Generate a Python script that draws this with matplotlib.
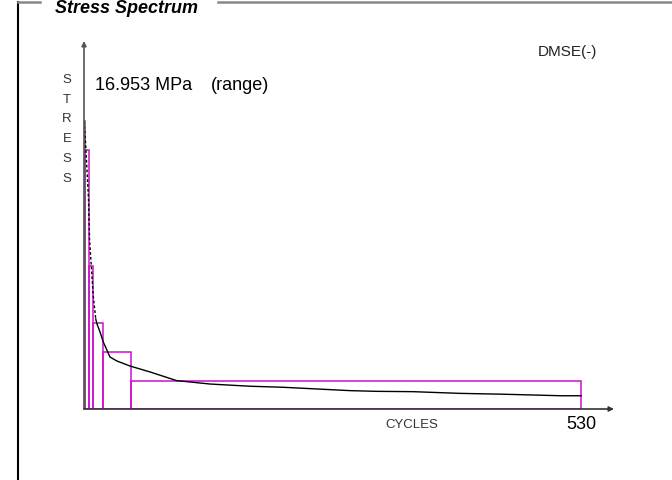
import matplotlib.pyplot as plt
from matplotlib.patches import Rectangle
from matplotlib.lines import Line2D

plt.rcParams['font.family'] = ['Liberation Sans', 'DejaVu Sans']

# rainflow spectrum: cumulative cycles vs stress range (MPa)
curve_cycles = [0, 1.1, 2.1, 4.8, 5.9, 7.5, 9.9, 12.5, 13.9, 17.1, 20.6, 27.7, 34.9,
                49.1, 70.4, 98.9, 134.4, 177, 212, 248, 284, 312, 351, 401, 447, 509, 530]
curve_stress = [16.953, 16.19, 15.24, 12.36, 10.0, 8.65, 6.65, 5.30, 5.0, 4.53, 3.94, 3.06, 2.83,
                2.53, 2.18, 1.67, 1.47, 1.34, 1.28, 1.18, 1.08, 1.04, 1.02, 0.92, 0.87, 0.78, 0.78]

# block spectrum bins
bin_edges = [0, 1, 5, 10, 20, 50, 530]
bin_stress = [16.953, 15.24, 8.43, 5.06, 3.37, 1.67]

max_range = 16.953
total_cycles = 530

W, H = 672, 481
fig = plt.figure(figsize=(W / 100, H / 100), dpi=100)
fig.patch.set_facecolor('white')


def px(x, y):
    return x / W, 1 - y / H


# plot area: origin at (84, 410) px, arrow tips at x=614 and y=42
ax = fig.add_axes([84 / W, (H - 410) / H, 530 / W, 368 / H])
ax.set_xlim(0, total_cycles * 530 / 497)
ax.set_ylim(0, max_range * 368 / 288)
for s in ax.spines.values():
    s.set_visible(False)
ax.set_xticks([])
ax.set_yticks([])
ax.patch.set_alpha(0)

for i, h in enumerate(bin_stress):
    ax.add_patch(Rectangle((bin_edges[i], 0), bin_edges[i + 1] - bin_edges[i], h,
                           fill=False, ec='#cc11cc', lw=1.1, zorder=2))

# steep head of the curve looks dashed over the bin edges
ax.plot(curve_cycles[:8], curve_stress[:8], color='black', lw=1, ls=(0, (2, 1.5)), zorder=3)
ax.plot(curve_cycles[7:], curve_stress[7:], color='black', lw=1, zorder=3)

# axes with arrow heads
ax.annotate('', xy=(0, 1), xytext=(0, 0), xycoords='axes fraction',
            arrowprops=dict(arrowstyle='-|>', color='#555555', lw=1.2,
                            mutation_scale=7, shrinkA=0, shrinkB=0))
ax.annotate('', xy=(1, 0), xytext=(0, 0), xycoords='axes fraction',
            arrowprops=dict(arrowstyle='-|>', color='#333333', lw=1.2,
                            mutation_scale=7, shrinkA=0, shrinkB=0))

# frame around the panel
fig.add_artist(Line2D([18 / W, 18 / W], [0, 1 - 3 / H], color='black', lw=1.5))
fig.add_artist(Line2D([18 / W, 40 / W], [1 - 3 / H, 1 - 3 / H], color='#888888', lw=1.8))
fig.add_artist(Line2D([218 / W, 1], [1 - 3 / H, 1 - 3 / H], color='#888888', lw=1.8))
fig.text(*px(55, 13), 'Stress Spectrum', fontsize=13, fontweight='bold',
         fontstyle='italic', va='baseline', ha='left')

fig.text(*px(95, 86), f'{max_range:.3f} MPa', fontsize=13, va='center', ha='left')
fig.text(*px(211, 86), '(range)', fontsize=13, va='center', ha='left')
fig.text(*px(538, 52), 'DMSE(-)', fontsize=11, va='center', ha='left', color='#222222')

for k, ch in enumerate('STRESS'):
    fig.text(*px(67, 80 + 19.7 * k), ch, fontsize=9.5, va='center', ha='center', color='#333333')

fig.text(*px(385, 425), 'CYCLES', fontsize=9.5, va='center', ha='left', color='#333333')
fig.text(*px(581, 425), f'{total_cycles}', fontsize=13, va='center', ha='center')

fig.savefig('out.png', dpi=100, facecolor='white')
